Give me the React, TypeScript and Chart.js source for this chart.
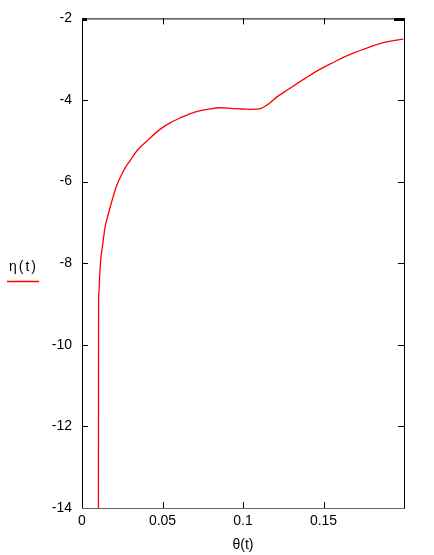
import React, { useEffect, useRef } from "react";
import { Chart, registerables } from "chart.js";

Chart.register(...registerables);

const thetaValues = [
  0.0102, 0.0103, 0.0105, 0.011, 0.0116, 0.013, 0.0143, 0.016, 0.0174, 0.0186,
  0.0215, 0.0247, 0.027, 0.0298, 0.034, 0.0402, 0.0484, 0.0547, 0.0609, 0.067,
  0.0723, 0.078, 0.0857, 0.094, 0.1, 0.105, 0.11, 0.115, 0.1209, 0.129, 0.1354,
  0.1437, 0.15, 0.1561, 0.162, 0.1685, 0.176, 0.183, 0.19, 0.1996,
];
const etaValues = [
  -14, -9.0, -8.7, -8.3, -7.94, -7.5, -7.12, -6.85, -6.64, -6.47, -6.1, -5.82,
  -5.65, -5.49, -5.25, -5.01, -4.72, -4.56, -4.44, -4.34, -4.27, -4.23, -4.19,
  -4.21, -4.22, -4.23, -4.22, -4.12, -3.93, -3.72, -3.55, -3.34, -3.2, -3.08,
  -2.96, -2.85, -2.74, -2.64, -2.57, -2.51,
];
const xTickValues = [0, 0.05, 0.1, 0.15];
const xTickLabels = ["0", "0.05", "0.1", "0.15"];
const yTickValues = [-14, -12, -10, -8, -6, -4, -2];

const seriesLabel = "η(t)";
const xTitle = "θ(t)";
const FONT = "Liberation Sans, Arial, sans-serif";

const framePlugin = {
  id: "frameTicks",
  afterDatasetsDraw(chart: any) {
    const { ctx, chartArea } = chart;
    const xs = chart.scales.x;
    const ys = chart.scales.y;
    const { left, right, top, bottom } = chartArea;
    ctx.save();
    ctx.lineWidth = 1;
    ctx.strokeStyle = "#000";
    ctx.beginPath();
    ctx.moveTo(left + 0.5, bottom);
    ctx.lineTo(left + 0.5, top + 0.5);
    ctx.lineTo(right + 0.5, top + 0.5);
    ctx.lineTo(right + 0.5, bottom);
    ctx.stroke();
    ctx.strokeStyle = "#666";
    ctx.beginPath();
    ctx.moveTo(left, bottom + 0.5);
    ctx.lineTo(right + 1, bottom + 0.5);
    ctx.stroke();
    ctx.strokeStyle = "#000";
    const L = 6;
    ctx.beginPath();
    xTickValues.forEach((v) => {
      if (v <= xs.min || v >= xs.max) return;
      const px = Math.round(xs.getPixelForValue(v)) + 0.5;
      ctx.moveTo(px, bottom);
      ctx.lineTo(px, bottom - L);
      ctx.moveTo(px, top);
      ctx.lineTo(px, top + L);
    });
    yTickValues.forEach((v) => {
      if (v <= ys.min || v >= ys.max) return;
      const py = Math.round(ys.getPixelForValue(v)) + 0.5;
      ctx.moveTo(left, py);
      ctx.lineTo(left + L, py);
      ctx.moveTo(right, py);
      ctx.lineTo(right - L, py);
    });
    ctx.stroke();
    ctx.lineWidth = 3;
    ctx.beginPath();
    ctx.moveTo(left, top + 1);
    ctx.lineTo(left + 5, top + 1);
    ctx.moveTo(right - 10, top + 1);
    ctx.lineTo(right + 1, top + 1);
    ctx.stroke();
    const ds = chart.data.datasets[0];
    ctx.fillStyle = "#000";
    ctx.font = `14px ${FONT}`;
    (ctx as any).letterSpacing = "2px";
    ctx.textAlign = "left";
    ctx.textBaseline = "middle";
    ctx.fillText(ds.label, 9, 267);
    (ctx as any).letterSpacing = "0px";
    ctx.strokeStyle = ds.borderColor;
    ctx.lineWidth = 1.5;
    ctx.beginPath();
    ctx.moveTo(7, 281.5);
    ctx.lineTo(39, 281.5);
    ctx.stroke();
    ctx.restore();
  },
};

export default function App() {
  const ref = useRef<HTMLCanvasElement | null>(null);
  useEffect(() => {
    if (!ref.current) return;
    const chart = new Chart(ref.current, {
      type: "line",
      data: {
        datasets: [
          {
            label: seriesLabel,
            data: thetaValues.map((x, i) => ({ x, y: etaValues[i] })),
            borderColor: "#ff0000",
            borderWidth: 1.3,
            pointRadius: 0,
            cubicInterpolationMode: "monotone",
            fill: false,
          },
        ],
      },
      options: {
        responsive: false,
        animation: false,
        layout: { padding: { top: 17, right: 30, left: 0, bottom: 0 } },
        plugins: { legend: { display: false }, tooltip: { enabled: false } },
        scales: {
          x: {
            type: "linear",
            min: 0,
            max: 0.2,
            afterBuildTicks: (s: any) => {
              s.ticks = xTickValues.map((v) => ({ value: v }));
            },
            afterFit: (s: any) => {
              s.height = 47;
            },
            grid: { display: false, drawTicks: false },
            border: { display: false },
            ticks: {
              color: "#000",
              font: { family: FONT, size: 14 },
              padding: 5,
              maxRotation: 0,
              autoSkip: false,
              callback: (v: any) => {
                const i = xTickValues.indexOf(Number(v));
                return i >= 0 ? xTickLabels[i] : "";
              },
            },
            title: {
              display: true,
              text: xTitle,
              color: "#000",
              font: { family: FONT, size: 14 },
              padding: { top: 0, bottom: 1 },
            },
          },
          y: {
            type: "linear",
            min: -14,
            max: -2,
            afterBuildTicks: (s: any) => {
              s.ticks = yTickValues.map((v) => ({ value: v }));
            },
            afterFit: (s: any) => {
              s.width = 82;
            },
            grid: { display: false, drawTicks: false },
            border: { display: false },
            ticks: {
              color: "#000",
              font: { family: FONT, size: 14 },
              padding: 10,
              autoSkip: false,
              callback: (v: any) => String(v),
            },
          },
        },
      },
      plugins: [framePlugin],
    });
    return () => chart.destroy();
  }, []);
  return (
    <canvas
      ref={ref}
      width={434}
      height={555}
      style={{ position: "absolute", left: 0, top: 0, width: 434, height: 555, background: "#fff" }}
    />
  );
}
